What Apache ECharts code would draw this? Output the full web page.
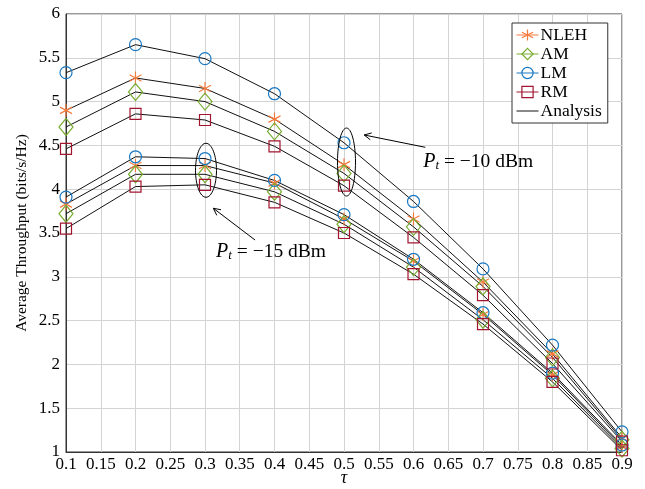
<!DOCTYPE html>
<html>
<head>
<meta charset="utf-8">
<script src="https://cdn.jsdelivr.net/npm/echarts@6/dist/echarts.min.js"></script>
<style>
  html, body { margin: 0; padding: 0; background: #fff; }
  #chart { width: 645px; height: 489px; }
</style>
</head>
<body>
<div id="chart"></div>
<script>
// tau values (x axis)
const tau = [0.1, 0.2, 0.3, 0.4, 0.5, 0.6, 0.7, 0.8, 0.9];

// Average throughput (bits/s/Hz), Pt = -10 dBm
const nleh10 = [4.90, 5.27, 5.15, 4.80, 4.28, 3.66, 2.94, 2.12, 1.16];
const am10   = [4.71, 5.11, 5.00, 4.66, 4.18, 3.57, 2.89, 2.08, 1.14];
const lm10   = [5.33, 5.65, 5.49, 5.09, 4.53, 3.86, 3.09, 2.22, 1.23];
const rm10   = [4.46, 4.86, 4.79, 4.49, 4.04, 3.45, 2.79, 2.01, 1.12];

// Average throughput (bits/s/Hz), Pt = -15 dBm
const nleh15 = [3.83, 4.27, 4.27, 4.07, 3.66, 3.18, 2.57, 1.88, 1.06];
const am15   = [3.72, 4.17, 4.17, 3.97, 3.60, 3.11, 2.51, 1.84, 1.04];
const lm15   = [3.91, 4.37, 4.35, 4.10, 3.71, 3.20, 2.59, 1.90, 1.08];
const rm15   = [3.55, 4.03, 4.05, 3.85, 3.50, 3.03, 2.46, 1.80, 1.02];

// axis ticks
const xTicks = [0.1, 0.15, 0.2, 0.25, 0.3, 0.35, 0.4, 0.45, 0.5, 0.55, 0.6, 0.65, 0.7, 0.75, 0.8, 0.85, 0.9];
const yTicks = [1, 1.5, 2, 2.5, 3, 3.5, 4, 4.5, 5, 5.5, 6];

const SERIF = "'Liberation Serif', 'DejaVu Serif', serif";
const asterisk = 'path://M0,-10L0,10M-8.66,-5L8.66,5M-8.66,5L8.66,-5';

const schemes = [
  { name: 'NLEH', color: '#f47a3c', symbol: asterisk,  size: [12, 13], p10: nleh10, p15: nleh15 },
  { name: 'AM',   color: '#77ac30', symbol: 'diamond', size: [14, 17], p10: am10,   p15: am15 },
  { name: 'LM',   color: '#1a78c2', symbol: 'circle',  size: 12,       p10: lm10,   p15: lm15 },
  { name: 'RM',   color: '#a2142f', symbol: 'rect',    size: 11,       p10: rm10,   p15: rm15 }
];

const pairs = arr => tau.map((t, i) => [t, arr[i]]);

const series = [];
// analytical curves (black lines)
schemes.forEach(s => {
  [s.p10, s.p15].forEach(arr => {
    series.push({
      name: 'Analysis', type: 'line', data: pairs(arr),
      symbol: 'none', lineStyle: { color: '#111', width: 1 },
      itemStyle: { color: '#111' }, z: 2, silent: true, animation: false
    });
  });
});
// simulation markers
schemes.forEach(s => {
  [s.p10, s.p15].forEach(arr => {
    series.push({
      name: s.name, type: 'line', data: pairs(arr),
      symbol: s.symbol, symbolSize: s.size, showSymbol: true, showAllSymbol: true,
      lineStyle: { width: 0, opacity: 0 },
      itemStyle: { color: 'rgba(0,0,0,0)', borderColor: s.color, borderWidth: 1.2 },
      z: 3, silent: true, animation: false
    });
  });
});

const fmt = v => String(Math.round(v * 100) / 100);

const chart = echarts.init(document.getElementById('chart'));
chart.setOption({
  animation: false,
  backgroundColor: '#fff',
  grid: {
    left: 66, right: 23, top: 14, bottom: 37,
    containLabel: false, outerBoundsMode: 'none',
    show: true, borderColor: '#333', borderWidth: 1, backgroundColor: 'transparent'
  },
  xAxis: {
    type: 'value', min: 0.1, max: 0.9, interval: 0.05,
    name: 'τ', nameLocation: 'middle', nameGap: 17, nameMoveOverlap: false,
    nameTextStyle: { fontFamily: SERIF, fontSize: 18, fontStyle: 'italic', color: '#000' },
    axisLine: { show: true, lineStyle: { color: '#333', width: 1 } },
    axisTick: { show: false },
    axisLabel: { formatter: fmt, fontFamily: SERIF, fontSize: 17, color: '#000', margin: 4 },
    splitLine: { show: true, lineStyle: { color: '#d3d3d3', width: 1 } }
  },
  yAxis: {
    type: 'value', min: 1, max: 6, interval: 0.5,
    name: 'Average Throughput (bits/s/Hz)', nameLocation: 'middle', nameGap: 36, nameMoveOverlap: false,
    nameTextStyle: { fontFamily: SERIF, fontSize: 15.5, color: '#000' },
    axisLine: { show: true, lineStyle: { color: '#333', width: 1 } },
    axisTick: { show: false },
    axisLabel: { formatter: fmt, fontFamily: SERIF, fontSize: 17, color: '#000', margin: 6 },
    splitLine: { show: true, lineStyle: { color: '#d3d3d3', width: 1 } }
  },
  legend: {
    orient: 'vertical', left: 512, top: 23,
    backgroundColor: '#fff', borderColor: '#333', borderWidth: 1,
    padding: [3, 6, 3, 4], itemGap: 1, itemWidth: 22, itemHeight: 14,
    textStyle: { fontFamily: SERIF, fontSize: 17.5, lineHeight: 15, color: '#000', padding: [0, 0, 0, -3] },
    data: schemes.map(s => ({
      name: s.name,
      lineStyle: { color: s.color, width: 1, opacity: 1 },
      itemStyle: { borderWidth: 1.2 }
    })).concat([{
      name: 'Analysis', icon: 'path://M0,0H22V1H0Z',
      itemStyle: { color: '#111', borderWidth: 0 },
      lineStyle: { opacity: 0 }
    }])
  },
  series: series
});

// annotations: ellipses around marker groups, arrows and power labels
function px(x, y) { return chart.convertToPixel({ gridIndex: 0 }, [x, y]); }

function arrow(tail, head) {
  const t = px(tail[0], tail[1]), h = px(head[0], head[1]);
  const dx = h[0] - t[0], dy = h[1] - t[1];
  const len = Math.hypot(dx, dy);
  const ux = dx / len, uy = dy / len, nx = -uy, ny = ux;
  const a = 7, b = 3.5;
  return [
    { type: 'line', shape: { x1: t[0], y1: t[1], x2: h[0], y2: h[1] }, style: { stroke: '#000', lineWidth: 1 }, z: 20 },
    { type: 'polyline', shape: { points: [
        [h[0] - a * ux + b * nx, h[1] - a * uy + b * ny], h,
        [h[0] - a * ux - b * nx, h[1] - a * uy - b * ny]] },
      style: { stroke: '#000', fill: 'none', lineWidth: 1 }, z: 20 }
  ];
}

function ellipse(c, rx, ry, dx) {
  const p = px(c[0], c[1]);
  return { type: 'ellipse', shape: { cx: p[0] + (dx || 0), cy: p[1], rx: rx, ry: ry },
    style: { fill: 'none', stroke: '#000', lineWidth: 1 }, z: 20 };
}

const rich = {
  i: { fontFamily: SERIF, fontSize: 20, fontStyle: 'italic', color: '#000' },
  s: { fontFamily: SERIF, fontSize: 13, fontStyle: 'italic', color: '#000', verticalAlign: 'bottom', padding: [8, 0, 0, 0] },
  n: { fontFamily: SERIF, fontSize: 19.5, color: '#000' }
};

function label(pos, text) {
  const p = px(pos[0], pos[1]);
  return { type: 'text', x: p[0], y: p[1], z: 20,
    style: { text: text, rich: rich, align: 'center', verticalAlign: 'middle' } };
}

chart.setOption({
  graphic: [
    ellipse([0.3, 4.216], 10.5, 27, 1),
    ellipse([0.5, 4.31], 9, 34, 2.5),
    ...arrow([0.372, 3.42], [0.312, 3.782]),
    ...arrow([0.617, 4.478], [0.529, 4.619]),
    label([0.395, 3.283], '{i|P}{s|t}{n| = −15 dBm}'),
    label([0.693, 4.314], '{i|P}{s|t}{n| = −10 dBm}')
  ]
});
</script>
</body>
</html>
